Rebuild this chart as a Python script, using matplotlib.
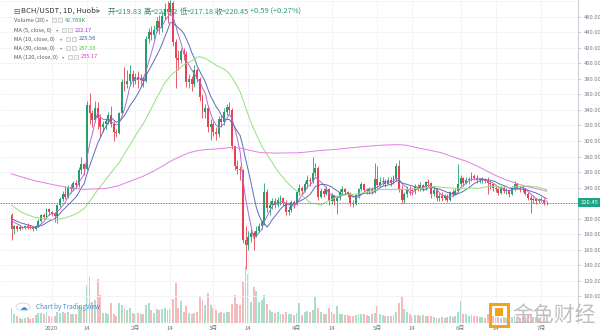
import numpy as np
import pandas as pd
import matplotlib
matplotlib.use("Agg")
import matplotlib.pyplot as plt
from matplotlib.patches import Rectangle, Circle
from matplotlib.transforms import blended_transform_factory

plt.rcParams['font.family'] = ['Noto Sans CJK SC', 'DejaVu Sans']

# BCH/USDT 1D (Huobi) closes 2019-08-19 .. 2019-12-16, only needed to warm up the moving averages
pre_close = [322, 326, 316, 312, 318, 310, 306, 312, 304, 292, 290, 294, 288,
             290, 298, 302, 300, 296, 298, 306, 312, 306, 300, 298, 304, 308, 310, 312,
             308, 316, 318, 322, 312, 310, 306, 302, 238, 232, 226, 236, 222, 218, 220,
             222, 220, 216, 218, 220, 214, 222, 230, 240, 232, 222, 222, 218, 222, 216,
             212, 220, 218, 214, 220, 218, 212, 208, 212, 256, 286, 290, 296, 280, 282, 288,
             290, 296, 288, 296, 290, 292, 290, 288, 296, 292, 282, 282, 280, 276, 272,
             274, 272, 270, 262, 266, 246, 230, 234, 226, 224, 222, 210, 216, 226, 222,
             212, 210, 212, 208, 208, 210, 208, 206, 204, 202, 202, 198, 200, 196, 198, 205]

# visible candles 2019-12-17 .. 2020-07-03
close = [186, 190, 187, 189, 188, 190, 189, 188, 186, 190,
         197, 204, 202, 212, 208, 206, 203, 217, 225, 232,
         228, 240, 238, 246, 243, 262, 270, 264, 346, 336,
         327, 343, 330, 318, 322, 326, 333, 322, 312, 310,
         336, 376, 374, 378, 386, 378, 382, 379, 381, 378,
         432, 440, 437, 443, 455, 446, 461, 470, 466, 478,
         428, 407, 405, 416, 412, 376, 380, 374, 392, 380,
         357, 338, 343, 318, 322, 312, 309, 328, 324, 338,
         344, 340, 294, 268, 264, 262, 172, 166, 176, 181,
         178, 184, 190, 195, 234, 213, 217, 222, 218, 224,
         226, 220, 208, 211, 221, 219, 234, 240, 236, 244,
         250, 248, 259, 265, 228, 236, 232, 238, 222, 230,
         222, 227, 234, 238, 234, 232, 220, 219, 230, 238,
         244, 237, 235, 238, 235, 251, 243, 247, 249, 245,
         250, 246, 252, 268, 238, 224, 231, 238, 237, 235,
         241, 239, 243, 240, 247, 246, 231, 237, 227, 229,
         226, 229, 224, 234, 232, 236, 245, 252, 246, 250,
         250, 255, 252, 250, 250, 250, 248, 246, 244, 240,
         238, 233, 240, 236, 237, 232, 240, 245, 240, 238.3,
         238, 232, 226, 224, 224.75, 222.0, 224.3, 224.24, 219.86, 220.45]

high = [207, 192, 191, 191, 190, 192, 194, 191, 189, 192,
        199, 206, 207, 214, 213, 210, 207, 219, 228, 236,
        242, 243, 244, 248, 250, 266, 279, 272, 352, 362,
        340, 352, 350, 335, 326, 330, 338, 345, 326, 316,
        338, 380, 396, 392, 398, 392, 388, 390, 386, 384,
        436, 446, 448, 450, 460, 462, 468, 478, 480, 482,
        480, 432, 418, 420, 420, 416, 386, 384, 398, 394,
        382, 360, 348, 345, 328, 325, 318, 332, 334, 342,
        348, 350, 342, 294, 275, 268, 264, 190, 184, 186,
        184, 190, 194, 198, 246, 238, 222, 226, 226, 228,
        230, 228, 224, 216, 224, 224, 236, 244, 242, 248,
        256, 253, 280, 272, 268, 240, 240, 242, 240, 233,
        230, 230, 238, 242, 240, 236, 234, 224, 232, 240,
        247, 245, 239, 241, 241, 272, 268, 253, 253, 251,
        254, 254, 256, 272, 276, 243, 234, 242, 242, 240,
        245, 245, 247, 245, 249, 251, 247, 241, 239, 233,
        234, 232, 232, 236, 238, 240, 270, 256, 254, 254,
        254, 260, 258, 256, 252, 253, 252, 254, 248, 246,
        242, 240, 242, 242, 240, 238, 242, 248, 246, 242,
        242, 240, 234, 230, 228, 226, 227, 228, 226, 222.72]

low = [172, 180, 184, 185, 186, 187, 187, 186, 184, 185,
       189, 196, 199, 201, 205, 203, 195, 194, 215, 222,
       225, 226, 233, 236, 238, 241, 258, 256, 262, 322,
       318, 325, 315, 305, 312, 316, 322, 318, 300, 305,
       309, 333, 365, 368, 372, 370, 374, 368, 372, 370,
       376, 426, 430, 432, 440, 438, 440, 458, 452, 462,
       422, 368, 392, 400, 405, 370, 368, 365, 370, 376,
       352, 330, 330, 312, 301, 306, 301, 305, 318, 320,
       333, 336, 290, 262, 258, 250, 168, 135, 160, 170,
       160, 176, 182, 186, 192, 208, 205, 212, 214, 215,
       218, 216, 204, 204, 208, 213, 218, 230, 230, 234,
       240, 242, 246, 255, 224, 226, 228, 230, 218, 219,
       218, 206, 224, 230, 230, 228, 216, 215, 217, 226,
       235, 233, 231, 232, 231, 233, 239, 241, 243, 241,
       244, 242, 244, 248, 234, 220, 220, 228, 230, 230,
       231, 235, 235, 236, 237, 241, 227, 229, 223, 223,
       222, 224, 221, 222, 228, 230, 234, 242, 242, 244,
       244, 248, 250, 246, 246, 246, 246, 232, 238, 236,
       234, 230, 232, 233, 232, 228, 230, 236, 238, 234,
       234, 230, 224, 207, 220, 219, 220, 221, 218, 217.18]

# volume in thousands
volume = [80, 50, 35, 25, 20, 25, 30, 22, 28, 40,
          55, 55, 45, 60, 38, 30, 35, 60, 55, 58,
          55, 60, 45, 50, 45, 90, 85, 70, 200, 240,
          110, 120, 230, 150, 55, 55, 50, 105, 50, 35,
          105, 95, 80, 70, 80, 55, 50, 55, 45, 50,
          95, 105, 70, 55, 75, 70, 75, 80, 70, 75,
          125, 210, 80, 115, 60, 90, 55, 50, 55, 60,
          140, 120, 95, 160, 95, 80, 70, 55, 60, 55,
          60, 60, 100, 150, 100, 95, 220, 300, 260, 110,
          190, 170, 110, 120, 150, 100, 70, 60, 55, 60,
          50, 45, 60, 45, 50, 40, 55, 105, 40, 60,
          65, 60, 70, 140, 80, 60, 50, 50, 80, 60,
          45, 90, 45, 45, 40, 40, 35, 35, 40, 45,
          45, 45, 40, 35, 45, 55, 90, 50, 40, 35,
          35, 35, 40, 60, 105, 140, 75, 60, 45, 35,
          40, 40, 35, 40, 35, 35, 35, 30, 28, 28,
          30, 28, 30, 35, 30, 35, 60, 115, 50, 45,
          35, 40, 35, 35, 30, 30, 28, 45, 35, 35,
          32, 30, 28, 30, 25, 25, 30, 35, 30, 28,
          30, 35, 40, 45, 30, 30, 28, 30, 45, 42.769]

first_open = 205
last_open = 219.83

tick_dates = ['2020-01-01', '2020-01-14', '2020-02-01', '2020-02-14', '2020-03-01', '2020-03-14',
              '2020-04-01', '2020-04-14', '2020-05-01', '2020-05-14', '2020-06-01', '2020-06-14',
              '2020-07-01']
tick_labels = ['2020', '14', '2月', '14', '3月', '14', '4月', '14', '5月', '14', '6月', '14', '7月']

ma_periods = [5, 10, 30, 120]
ma_colors = ['#b36ad8', '#5b6fb3', '#8fe27c', '#e27de8']

dates = pd.date_range('2019-12-17', periods=len(close), freq='D')
opens = [first_open] + close[:-1]
opens[-1] = last_open
o = np.array(opens, float)
c = np.array(close, float)
h = np.maximum(np.array(high, float), np.maximum(o, c))
l = np.minimum(np.array(low, float), np.minimum(o, c))
v = np.array(volume, float)
x = np.arange(len(c))
up = c >= o

UP, DOWN = '#22a06b', '#e8414f'
VUP, VDOWN = '#a8dfca', '#f6b9bc'
LAST = '#1ea484'

W, H = 600, 336
fig = plt.figure(figsize=(6, 3.36), dpi=100)
fig.patch.set_facecolor('white')

ax_pos = [0, 13 / H, 578 / W, 1 - 13 / H]
vax = fig.add_axes(ax_pos)
ax = fig.add_axes(ax_pos, sharex=vax)
ax.patch.set_visible(False)

xmin, xmax = -4.28, 210.6
ymin, ymax = 65.2, 481.9

# volume histogram
vax.bar(x, v, width=0.72, color=np.where(up, VUP, VDOWN), zorder=1)
vax.set_ylim(0, 1700)
vax.set_yticks([])
vax.tick_params(axis='x', which='both', length=0, labelbottom=False)
for s in vax.spines.values():
    s.set_visible(False)

# grid
ax.set_xlim(xmin, xmax)
ax.set_ylim(ymin, ymax)
yt = [p for p in range(100, 461, 20) if p != 220]
tick_pos = [dates.get_loc(pd.Timestamp(d)) for d in tick_dates]
for p in range(100, 481, 20):
    ax.axhline(p, color='#f1f3f6', lw=0.6, zorder=0)
for t in tick_pos:
    ax.axvline(t, color='#f1f3f6', lw=0.6, zorder=0)

# moving averages
full = pd.Series(pre_close + close, dtype=float)
for n, col in zip(ma_periods, ma_colors):
    ma = full.rolling(n).mean().iloc[len(pre_close):].to_numpy()
    ax.plot(x, ma, color=col, lw=0.7, zorder=4)

# candles
ax.vlines(x, l, h, colors=np.where(up, UP, DOWN), lw=0.6, zorder=3)
body = np.maximum(np.abs(c - o), 0.6)
ax.bar(x, body, bottom=np.minimum(o, c), width=0.72, color=np.where(up, UP, DOWN), zorder=3)

# last price line and tag
ax.axhline(c[-1], color=LAST, lw=0.6, ls=(0, (2, 1.2)), zorder=5)
tr = blended_transform_factory(ax.transAxes, ax.transData)
ax.text(1.004, c[-1], f'{c[-1]:.2f}', transform=tr, ha='left', va='center', fontsize=4.2,
        color='white', zorder=10, clip_on=False,
        bbox=dict(boxstyle='square,pad=0.35', fc=LAST, ec='none'))

# axes
ax.yaxis.tick_right()
ax.set_yticks(yt)
ax.set_yticklabels([f'{p:.2f}' for p in yt])
ax.tick_params(axis='y', length=2.5, width=0.5, color='#b8bcc6', labelsize=4.2,
               labelcolor='#7b7f88', pad=1.5)
ax.set_xticks(tick_pos)
ax.set_xticklabels(tick_labels)
ax.tick_params(axis='x', length=0, labelsize=4.3, labelcolor='#6f737c', pad=2)
for s in ['top', 'left', 'bottom']:
    ax.spines[s].set_visible(False)
ax.spines['right'].set_color('#c8ccd4')
ax.spines['right'].set_linewidth(0.7)


def fx(px):
    return px / W


def fy(py):
    return 1 - py / H


# header
hdr = dict(transform=fig.transFigure, va='center', zorder=0.5)
ax.text(fx(13), fy(11), '⊟', fontsize=5.5, color='#555', family=['DejaVu Sans'], **hdr)
ax.text(fx(21), fy(11), 'BCH/USDT, 1D, Huobi', fontsize=5.5, color='#333', **hdr)
ax.text(fx(97), fy(11), '▾', fontsize=4.2, color='#777', family=['DejaVu Sans'], **hdr)
GREEN_TXT = '#2a9d6a'
for px, lab, val in [(108, '开', '=219.83'), (144, '高', '=222.72'), (180, '低', '=217.18'),
                     (215, '收', '=220.45')]:
    ax.text(fx(px), fy(12), lab, fontsize=5.4, color='#3c7d5f', **hdr)
    ax.text(fx(px + 6.5), fy(12), val, fontsize=5.4, color=GREEN_TXT, **hdr)
ax.text(fx(250), fy(12), '+0.59 (+0.27%)', fontsize=5.4, color=GREEN_TXT, **hdr)

rows = [('Volume (20)', '42.769K', 20, 52, GREEN_TXT),
        ('MA (5, close, 0)', '222.17', 30, 62, '#9b3fc4'),
        ('MA (10, close, 0)', '225.56', 39, 66, '#3d5a9e'),
        ('MA (30, close, 0)', '237.33', 48, 66, '#3ecf2a'),
        ('MA (120, close, 0)', '235.17', 57, 68, '#d33ad8')]
for name, val, py, bx, col in rows:
    ax.text(fx(14), fy(py), name, fontsize=4.0, color='#555', **hdr)
    ax.text(fx(bx - 6), fy(py), '▾', fontsize=3.2, color='#888', family=['DejaVu Sans'], **hdr)
    for k in range(2):
        fig.patches.append(Rectangle((fx(bx + k * 5.5), fy(py + 2.2)), fx(4.2), 4.2 / H,
                                     transform=fig.transFigure, fc='#f4f4f4', ec='#b5b5b5',
                                     lw=0.4, zorder=0.5))
    ax.text(fx(bx + 13), fy(py), val, fontsize=4.1, color=col, **hdr)

# TradingView badge
fig.patches.append(Circle((fx(23), fy(307)), 7 / W, transform=fig.transFigure,
                          fc='white', ec='#c9d6e6', lw=0.6, zorder=6))
fig.text(fx(23), fy(307.5), '☁', fontsize=5.5, color='#3f8fd2', ha='center', va='center',
         family=['DejaVu Sans'], zorder=7)
fig.text(fx(36), fy(307), 'Chart by TradingView', fontsize=4.6, color='#3f8fd2',
         va='center', zorder=7)

# site mark
fig.patches.append(Rectangle((fx(490), fy(326)), fx(18), 22 / H, transform=fig.transFigure,
                             fc='none', ec='#f2a31b', lw=2.2, zorder=6))
fig.patches.append(Rectangle((fx(495), fy(316)), fx(8), 8 / H, transform=fig.transFigure,
                             fc='#f2a31b', ec='none', zorder=6))
fig.text(fx(512), fy(315), '金色财经', fontsize=15, color='#b9b9b9', alpha=0.9,
         va='center', zorder=7)

fig.savefig('out.png', dpi=100)
